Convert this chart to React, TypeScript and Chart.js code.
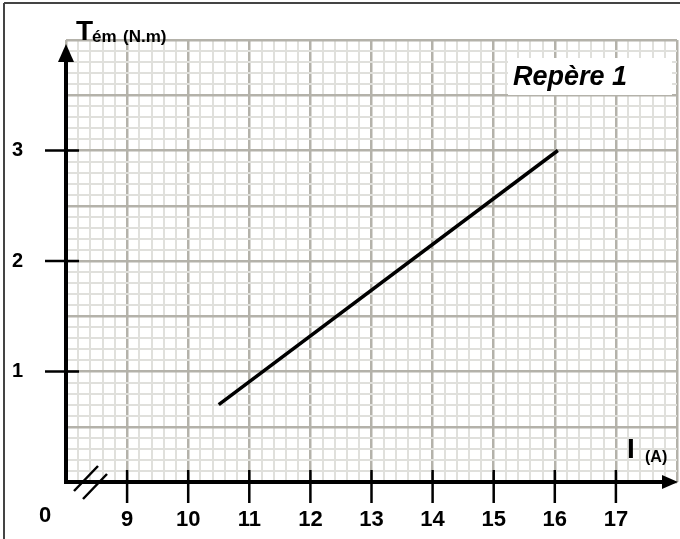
import React, { useEffect, useRef } from "react";
import { Chart, registerables } from "chart.js";

Chart.register(...registerables);

// ---- data ----
const currentI = [10.5, 16.05]; // I (A)
const torqueT = [0.7, 3.0]; // Tém (N.m)
const xTickLabels = [9, 10, 11, 12, 13, 14, 15, 16, 17];
const yTickLabels = [1, 2, 3];
const xRange = [8, 18];
const yRange = [0, 4];
const xSteps = [0.2, 1]; // minor, major
const ySteps = [0.1, 0.5]; // minor, major

const FONT = '"Liberation Sans", Arial, sans-serif';
const MAJOR = "rgb(180,178,170)";
const MINOR = "rgb(224,224,220)";

const isMultiple = (v: number, step: number) => {
  const r = v / step;
  return Math.abs(r - Math.round(r)) < 1e-6;
};

const zeroPad = (s: any) => {
  s.paddingTop = 0;
  s.paddingBottom = 0;
  s.paddingLeft = 0;
  s.paddingRight = 0;
};

const decorPlugin = {
  id: "decor",
  afterDraw(chart: any) {
    const ctx = chart.ctx as CanvasRenderingContext2D;
    const xs = chart.scales.x;
    const ys = chart.scales.y;
    const ox = xs.getPixelForValue(xRange[0]);
    const oy = ys.getPixelForValue(yRange[0]);
    const topY = chart.chartArea.top;
    const rightX = chart.chartArea.right;
    ctx.save();

    // frame (top & left)
    ctx.strokeStyle = "#444";
    ctx.lineWidth = 2;
    ctx.beginPath();
    ctx.moveTo(4, 3);
    ctx.lineTo(680, 3);
    ctx.moveTo(4, 3);
    ctx.lineTo(4, 539);
    ctx.stroke();

    // axes
    ctx.strokeStyle = "#000";
    ctx.fillStyle = "#000";
    ctx.lineWidth = 4;
    ctx.lineCap = "butt";
    ctx.beginPath();
    ctx.moveTo(ox, oy + 2);
    ctx.lineTo(ox, topY + 16);
    ctx.moveTo(ox - 2, oy);
    ctx.lineTo(rightX - 10, oy);
    ctx.stroke();
    // arrows
    ctx.beginPath();
    ctx.moveTo(ox, topY + 4);
    ctx.lineTo(ox - 8, topY + 22);
    ctx.lineTo(ox + 8, topY + 22);
    ctx.closePath();
    ctx.fill();
    ctx.beginPath();
    ctx.moveTo(rightX + 1, oy);
    ctx.lineTo(rightX - 15, oy - 7);
    ctx.lineTo(rightX - 15, oy + 7);
    ctx.closePath();
    ctx.fill();

    // tick marks
    ctx.lineWidth = 2.5;
    ctx.beginPath();
    yTickLabels.forEach((v) => {
      const y = ys.getPixelForValue(v);
      ctx.moveTo(ox - 21, y);
      ctx.lineTo(ox + 13, y);
    });
    xTickLabels.forEach((v) => {
      const x = xs.getPixelForValue(v);
      ctx.moveTo(x, oy - 12);
      ctx.lineTo(x, oy + 21);
    });
    ctx.stroke();

    // axis break
    ctx.lineWidth = 2.5;
    ctx.beginPath();
    ctx.moveTo(ox + 8, oy + 9);
    ctx.lineTo(ox + 32, oy - 16);
    ctx.moveTo(ox + 17, oy + 17);
    ctx.lineTo(ox + 41, oy - 8);
    ctx.stroke();

    // origin label
    ctx.font = `bold 22px ${FONT}`;
    ctx.textAlign = "center";
    ctx.textBaseline = "middle";
    ctx.fillText("0", ox - 21, oy + 34);

    // axis titles
    ctx.textAlign = "left";
    ctx.textBaseline = "alphabetic";
    ctx.font = `bold 28px ${FONT}`;
    ctx.fillText("T", 76, 40);
    ctx.font = `bold 17px ${FONT}`;
    ctx.fillText("ém", 92, 42);
    ctx.fillText("(N.m)", 123, 42);

    ctx.font = `bold 28px ${FONT}`;
    ctx.fillText("I", 627, 458);
    ctx.font = `bold 16px ${FONT}`;
    ctx.fillText("(A)", 645, 462);

    // Repère box
    ctx.fillStyle = "#fff";
    ctx.fillRect(508, 58, 164, 37);
    ctx.fillStyle = "#000";
    ctx.font = `italic bold 27px ${FONT}`;
    ctx.fillText("Repère 1", 513, 85);

    ctx.restore();
  },
};

export default function App() {
  const ref = useRef<HTMLCanvasElement | null>(null);

  useEffect(() => {
    if (!ref.current) return;
    const chart = new Chart(ref.current, {
      type: "line",
      data: {
        datasets: [
          {
            data: currentI.map((x, i) => ({ x, y: torqueT[i] })),
            borderColor: "#000",
            borderWidth: 3.5,
            pointRadius: 0,
            fill: false,
          },
        ],
      },
      options: {
        responsive: false,
        animation: false,
        events: [],
        layout: { padding: { top: 40, right: 3, left: 0, bottom: 0 } },
        plugins: {
          legend: { display: false },
          tooltip: { enabled: false },
          title: { display: false },
        },
        scales: {
          x: {
            type: "linear",
            min: xRange[0],
            max: xRange[1],
            border: { display: false },
            grid: {
              drawTicks: false,
              color: (c: any) => (isMultiple(c.tick.value, xSteps[1]) ? MAJOR : MINOR),
              lineWidth: (c: any) => (isMultiple(c.tick.value, xSteps[1]) ? 2.5 : 2),
            },
            ticks: {
              stepSize: xSteps[0],
              autoSkip: false,
              maxRotation: 0,
              padding: 25,
              color: "#000",
              font: { family: FONT, size: 22, weight: "bold" },
              callback: (v: any) => {
                const n = Number(v);
                return xTickLabels.some((t) => Math.abs(t - n) < 1e-6) ? String(Math.round(n)) : "";
              },
            },
            afterFit: (s: any) => {
              s.height = 57;
              zeroPad(s);
            },
          },
          y: {
            type: "linear",
            min: yRange[0],
            max: yRange[1],
            border: { display: false },
            grid: {
              drawTicks: false,
              color: (c: any) => (isMultiple(c.tick.value, ySteps[1]) ? MAJOR : MINOR),
              lineWidth: (c: any) => (isMultiple(c.tick.value, ySteps[1]) ? 2.5 : 2),
            },
            ticks: {
              stepSize: ySteps[0],
              autoSkip: false,
              padding: 43,
              color: "#000",
              font: { family: FONT, size: 20, weight: "bold" },
              callback: (v: any) => {
                const n = Number(v);
                return yTickLabels.some((t) => Math.abs(t - n) < 1e-6) ? String(Math.round(n)) : "";
              },
            },
            afterFit: (s: any) => {
              s.width = 66;
              zeroPad(s);
            },
          },
        },
      },
      plugins: [decorPlugin],
    });
    return () => chart.destroy();
  }, []);

  return (
    <div style={{ position: "fixed", left: 0, top: 0, width: 680, height: 539, background: "#fff" }}>
      <canvas ref={ref} width={680} height={539} style={{ width: 680, height: 539, display: "block" }} />
    </div>
  );
}
